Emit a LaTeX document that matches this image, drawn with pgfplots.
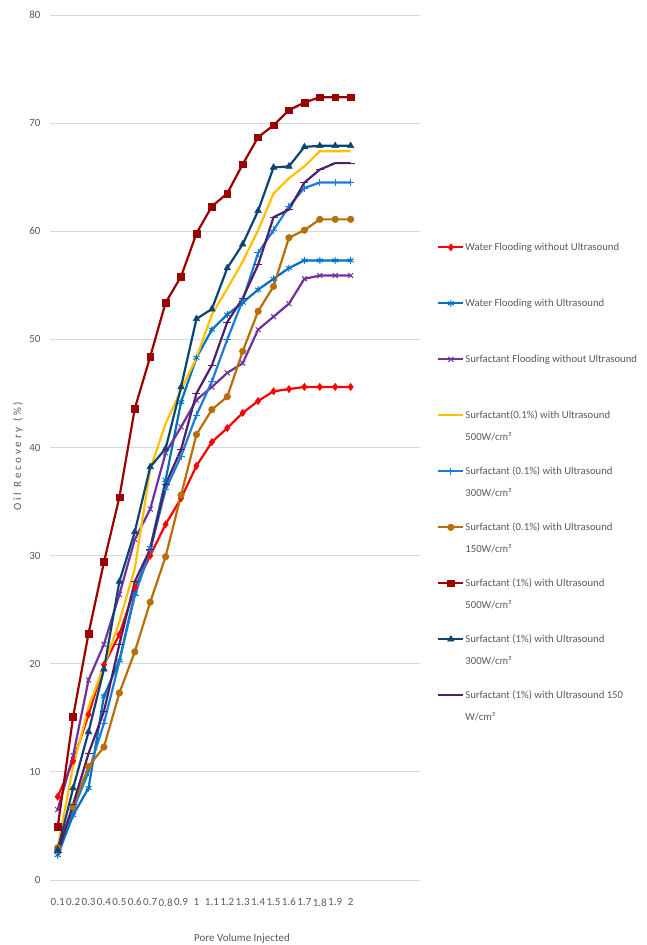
\documentclass[border=0pt]{standalone}
\usepackage{fontspec}
\setmainfont{Carlito}
\usepackage{pgfplots}
\pgfplotsset{compat=1.18}
\definecolor{gridgray}{HTML}{D9D9D9}
\definecolor{labelgray}{HTML}{595959}
\definecolor{cRed}{HTML}{FF0000}
\definecolor{cBlueA}{HTML}{0070C0}
\definecolor{cPurple}{HTML}{7030A0}
\definecolor{cYellow}{HTML}{FFC000}
\definecolor{cBlueP}{HTML}{1C7CD5}
\definecolor{cBrown}{HTML}{B86F0A}
\definecolor{cDarkRed}{HTML}{9A0000}
\definecolor{cNavy}{HTML}{0B4570}
\definecolor{cDarkPurple}{HTML}{4E206C}
\newcommand{\legtxt}[1]{\raisebox{0pt}[31.4pt][24.6pt]{\parbox[t]{185pt}{\fontsize{10.7}{22}\selectfont\raggedright #1\par}}}
\begin{document}
\begin{tikzpicture}
\useasboundingbox (0,0) rectangle (646pt,945pt);
\begin{axis}[
  at={(50pt,65pt)}, anchor=south west,
  scale only axis, width=370pt, height=865pt,
  xmin=0.5, xmax=24.5, ymin=0, ymax=80,
  ytick={0,10,...,80},
  xtick={1,...,20},
  xticklabels={0.1,0.2,0.3,0.4,0.5,0.6,0.7,0.8,0.9,1,1.1,1.2,1.3,1.4,1.5,1.6,1.7,1.8,1.9,2},
  axis line style={draw=none},
  major tick length=0pt,
  ymajorgrids, grid style={draw=gridgray, line width=0.9pt},
  /pgf/number format/assume math mode=true,
  tick label style={font=\fontsize{11}{13}\selectfont, text=labelgray},
  xticklabel style={yshift=-15pt},
  yticklabel style={xshift=-6pt},
  xlabel={Pore Volume Injected},
  xlabel style={at={(axis description cs:0.519,0)}, anchor=base, yshift=-61pt, font=\fontsize{11}{13}\selectfont, text=labelgray},
  ylabel={\addfontfeature{LetterSpace=25}Oil Recovery (\%)},
  ylabel style={at={(axis description cs:-0.0865,0.49)}, anchor=center, font=\fontsize{11}{13}\selectfont, text=labelgray},
  legend style={at={(axis description cs:1.046,0.764)}, anchor=north west, draw=none, fill=none, inner sep=0pt,
    text=labelgray, row sep=0pt, column sep=1pt, nodes={inner sep=0pt, text depth=}},
  legend cell align=left,
  legend image code/.code={\draw[mark repeat=2,mark phase=2] plot coordinates {(0pt,0pt) (12.5pt,0pt) (25pt,0pt)};},
  every axis plot/.append style={line width=2.2pt},
]
\addplot[cRed, mark=diamond*, mark size=3.6pt, mark options={solid, fill=cRed, line width=0.5pt}] coordinates {
(1,7.7)(2,11.0)(3,15.3)(4,19.9)(5,22.7)(6,27.0)(7,30.0)(8,32.9)(9,35.3)(10,38.3)
(11,40.5)(12,41.8)(13,43.2)(14,44.3)(15,45.2)(16,45.4)(17,45.6)(18,45.6)(19,45.6)(20,45.6)};
\addlegendentry{\legtxt{Water Flooding without Ultrasound}}
\addplot[cBlueA, mark=asterisk, mark size=3.5pt, mark options={solid, line width=1pt}] coordinates {
(1,2.3)(2,6.0)(3,8.5)(4,17.0)(5,20.3)(6,26.5)(7,30.7)(8,37.0)(9,44.2)(10,48.3)
(11,50.9)(12,52.3)(13,53.4)(14,54.6)(15,55.6)(16,56.6)(17,57.3)(18,57.3)(19,57.3)(20,57.3)};
\addlegendentry{\legtxt{Water Flooding with Ultrasound}}
\addplot[cPurple, mark=x, mark size=3.5pt, mark options={solid, line width=1pt}] coordinates {
(1,6.5)(2,11.5)(3,18.5)(4,21.8)(5,26.4)(6,31.5)(7,34.3)(8,39.5)(9,41.9)(10,44.4)
(11,45.6)(12,46.9)(13,47.8)(14,50.9)(15,52.1)(16,53.3)(17,55.6)(18,55.9)(19,55.9)(20,55.9)};
\addlegendentry{\legtxt{Surfactant Flooding without Ultrasound}}
\addplot[cYellow, mark=none] coordinates {
(1,3.0)(2,10.5)(3,16.0)(4,19.8)(5,23.9)(6,28.8)(7,38.0)(8,42.2)(9,45.3)(10,48.3)
(11,52.3)(12,54.7)(13,57.2)(14,60.1)(15,63.5)(16,64.9)(17,66.0)(18,67.4)(19,67.4)(20,67.4)};
\addlegendentry{\legtxt{Surfactant(0.1\%) with Ultrasound\\500W/cm²}}
\addplot[cBlueP, mark=+, mark size=3.8pt, mark options={solid, line width=1pt}] coordinates {
(1,2.8)(2,6.5)(3,10.0)(4,14.5)(5,20.2)(6,26.3)(7,30.5)(8,36.1)(9,39.2)(10,43.0)
(11,46.1)(12,50.0)(13,53.6)(14,58.0)(15,60.1)(16,62.3)(17,64.0)(18,64.5)(19,64.5)(20,64.5)};
\addlegendentry{\legtxt{Surfactant (0.1\%) with Ultrasound\\300W/cm²}}
\addplot[cBrown, mark=*, mark size=3.3pt, mark options={solid, fill=cBrown, line width=0.5pt}] coordinates {
(1,3.0)(2,6.8)(3,10.5)(4,12.3)(5,17.3)(6,21.1)(7,25.7)(8,29.9)(9,35.6)(10,41.2)
(11,43.5)(12,44.7)(13,48.9)(14,52.6)(15,54.9)(16,59.4)(17,60.1)(18,61.1)(19,61.1)(20,61.1)};
\addlegendentry{\legtxt{Surfactant (0.1\%) with Ultrasound\\150W/cm²}}
\addplot[cDarkRed, mark=square*, mark size=3.4pt, mark options={solid, fill=cDarkRed, line width=0.5pt}] coordinates {
(1,4.9)(2,15.1)(3,22.8)(4,29.4)(5,35.4)(6,43.6)(7,48.4)(8,53.4)(9,55.8)(10,59.8)
(11,62.3)(12,63.5)(13,66.2)(14,68.7)(15,69.8)(16,71.2)(17,71.9)(18,72.4)(19,72.4)(20,72.4)};
\addlegendentry{\legtxt{Surfactant (1\%) with Ultrasound\\500W/cm²}}
\addplot[cNavy, mark=triangle*, mark size=3.8pt, mark options={solid, fill=cNavy, line width=0.5pt}] coordinates {
(1,2.8)(2,8.5)(3,13.7)(4,19.5)(5,27.6)(6,32.2)(7,38.2)(8,39.9)(9,45.6)(10,51.9)
(11,52.8)(12,56.6)(13,58.8)(14,61.9)(15,65.9)(16,66.0)(17,67.8)(18,67.9)(19,67.9)(20,67.9)};
\addlegendentry{\legtxt{Surfactant (1\%) with Ultrasound\\300W/cm²}}
\addplot[cDarkPurple, mark=-, mark size=4pt, mark options={solid, line width=1pt}] coordinates {
(1,2.5)(2,7.0)(3,11.7)(4,15.6)(5,21.8)(6,27.6)(7,30.6)(8,36.6)(9,39.8)(10,45.0)
(11,47.6)(12,51.6)(13,53.8)(14,56.9)(15,61.3)(16,62.0)(17,64.5)(18,65.7)(19,66.3)(20,66.3)};
\addlegendentry{\legtxt{Surfactant (1\%) with Ultrasound 150\\W/cm²}}
\end{axis}
\end{tikzpicture}
\end{document}
